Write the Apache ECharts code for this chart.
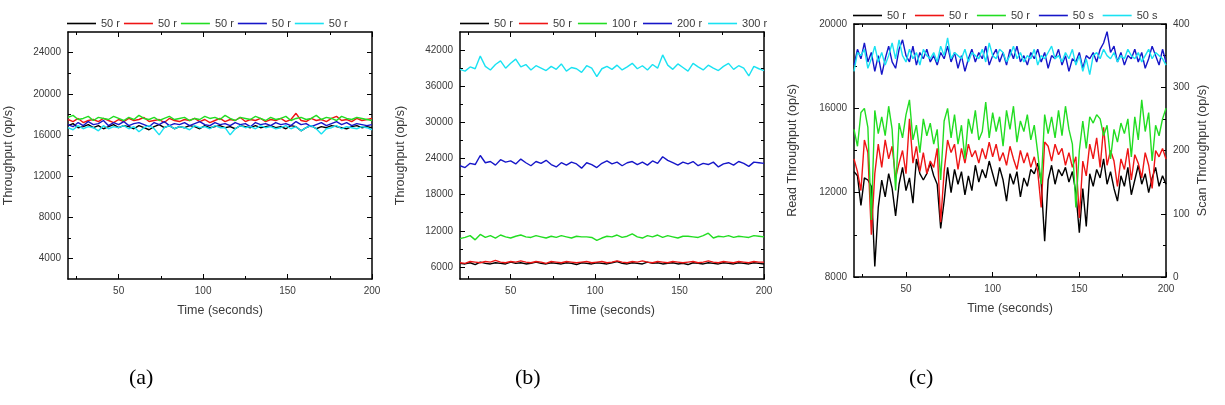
<!DOCTYPE html>
<html>
<head>
<meta charset="utf-8">
<script src="https://cdn.jsdelivr.net/npm/echarts@6/dist/echarts.min.js"></script>
<style>
  html, body { margin: 0; padding: 0; background: #fff; }
  #main { width: 1225px; height: 405px; }
</style>
</head>
<body>
<div id="main"></div>
<script>
// time stamps (seconds)
const times3 = [20,23,26,29,32,35,38,41,44,47,50,53,56,59,62,65,68,71,74,77,
  80,83,86,89,92,95,98,101,104,107,110,113,116,119,122,125,128,131,134,137,
  140,143,146,149,152,155,158,161,164,167,170,173,176,179,182,185,188,191,194,197,200];
const times2 = [20,22,24,26,28,30,32,34,36,38,40,42,44,46,48,50,52,54,56,58,
  60,62,64,66,68,70,72,74,76,78,80,82,84,86,88,90,92,94,96,98,
  100,102,104,106,108,110,112,114,116,118,120,122,124,126,128,130,132,134,136,138,
  140,142,144,146,148,150,152,154,156,158,160,162,164,166,168,170,172,174,176,178,
  180,182,184,186,188,190,192,194,196,198,200];

// panel (a)
const labelsA = ["50 r", "50 r", "50 r", "50 r", "50 r"];
const blackA = [16900,17100,16700,16800,17000,16700,16900,16600,16800,17000,
  16700,16900,16800,16600,16900,16700,16500,16800,17000,16700,
  16900,16600,16800,16700,16900,16800,16600,16900,16700,16800,
  16900,16700,16800,16600,16900,16800,16700,16900,16700,16800,
  16900,16700,16800,16600,16900,16800,16400,16700,16900,16600,
  16800,16700,16900,16800,16700,16600,16800,16900,16700,16800,
  16700];
const redA = [17500,17300,17600,17200,17400,17500,17300,17600,17400,17200,
  17500,17300,17600,17400,17500,17700,17300,17400,17500,17200,
  17600,17400,17300,17500,17400,17600,17300,17500,17200,17400,
  17600,17300,17500,17400,17700,17300,17500,17400,17600,17300,
  17500,17400,17600,17300,17500,18100,17400,17300,17600,17400,
  17500,17300,17600,17800,17400,17500,17300,17600,17400,17500,
  17600];
const greenA = [17700,17900,17500,17600,17800,17400,17700,17600,17500,17800,
  17600,17400,17700,17500,17900,17600,17500,17700,17400,17600,
  17800,17500,17600,17700,17400,17600,17500,17800,17600,17700,
  17500,17900,17600,17400,17700,17600,17500,17800,17600,17400,
  17700,17500,17600,17800,17400,17600,17700,17500,17600,17900,
  17500,17700,17600,17400,17800,17600,17500,17700,17600,17500,
  17400];
const blueA = [17000,16800,17200,16900,17300,17000,17100,17400,16900,17200,
  17000,17300,16900,17100,17200,17000,16800,17200,17000,17300,
  16900,17100,17000,17200,16900,17100,17300,17000,16900,17200,
  17000,17100,16900,17200,17000,17100,16800,17200,17000,17100,
  16900,17200,17000,17100,16900,17300,17000,17100,16800,17000,
  17200,16900,17100,17300,17000,17200,16900,17100,17000,16900,
  17000];
const cyanA = [16700,16500,16900,16600,16800,16700,16400,16900,16600,16800,
  16700,16900,16600,16800,16300,16700,16900,16600,16000,16700,
  16900,16600,16800,16700,16500,16900,16700,16800,16600,16900,
  16700,16700,16000,16600,16900,16700,16800,16600,16900,16700,
  16800,16600,16700,16900,16600,16800,16400,16700,16900,16600,
  16100,16600,16700,16900,16600,16800,16700,16600,16800,16700,
  16500];

// panel (b)
const labelsB = ["50 r", "50 r", "100 r", "200 r", "300 r"];
const blackB = [6600,6500,6700,6400,6800,6600,6500,6700,6600,6500,
  6800,6600,6700,6500,6600,6800,6600,6500,6700,6600,
  6500,6700,6600,6400,6700,6600,6500,6700,6600,6500,
  6700,6900,6600,6500,6700,6600,6500,6800,6600,6700,
  6500,6600,6700,6500,6600,6400,6700,6600,6500,6700,
  6600,6500,6700,6600,6500,6700,6600,6500,6700,6600,
  6500];
const redB = [6700,6600,6900,6800,6700,6900,6800,7100,6800,6700,
  6900,6800,7000,6800,6700,6900,6800,6600,6900,6800,
  6700,6900,6800,6700,6800,6900,6700,6800,6900,6700,
  6800,7000,6800,6700,6900,6800,7000,6800,6700,6900,
  6800,6700,6900,6800,6700,6800,6900,6700,6800,7000,
  6800,6700,6900,6800,6700,6900,6800,6700,6900,6800,
  6800];
const greenB = [10700,10900,11200,10500,11400,10900,11200,10800,11300,11000,
  10800,11100,11300,11000,10900,11200,11000,10800,11100,10900,
  11200,11000,10800,11100,11000,11000,10900,10400,10800,11100,
  11000,11300,10900,11100,11500,11000,10800,11200,11000,11300,
  10900,11200,11000,10800,11100,11100,11000,10900,11200,11600,
  10800,11100,11000,11200,10900,11100,11000,10900,11200,11100,
  11000];
const blueB = [22800,22500,23200,23000,24500,23300,23500,22900,23800,23400,
  23600,23100,23900,23300,22800,23500,23200,23700,23000,22600,
  23300,22900,23400,23100,22400,23300,23000,22500,23200,23600,
  23100,23400,22800,23300,23500,23000,23400,22900,23600,23200,
  24300,23700,23300,22900,23400,23100,23500,22800,23200,23000,
  23400,22600,23100,23300,22900,23500,23200,22700,23400,23300,
  23200];
const cyanB = [38800,38500,39200,38900,41000,39300,38700,39600,40200,39000,
  39800,40500,39200,39600,38700,39400,39000,38600,39300,38800,
  39700,38500,39100,38900,38300,39400,39000,37600,38900,39300,
  38800,39500,38700,39200,39800,38900,39400,38700,39600,39000,
  41200,39500,38800,39700,39100,38500,39800,39200,38700,39500,
  39000,38600,39300,39800,38800,39400,39000,37700,39300,38900,
  38600];

// panel (c): read throughput (left axis) and scan throughput (right axis)
const labelsC = ["50 r", "50 r", "50 r", "50 s", "50 s"];
const blackC = [13000,12800,11400,12700,12600,12300,8500,11300,12600,11800,
  12900,12200,10900,12400,13200,12100,12700,11500,13600,12900,
  12600,12900,13400,12800,12400,10300,11600,13200,12000,13100,
  12400,13000,11900,12800,12100,13300,12500,13100,12700,13500,
  12900,12300,13200,12600,11600,12900,12400,13000,11800,12700,
  12300,13100,12900,13400,12500,9700,12600,13300,12400,13100,
  12800,13200,12500,13000,12000,10100,12200,10400,12900,12300,
  13100,12700,13600,12400,13000,12200,11600,12800,12300,13200,
  11900,12600,13300,12400,12900,12000,12700,13200,12300,12800,
  12400];
const redC = [13600,13000,12100,14500,13900,10000,12900,14300,13200,14500,
  13600,14200,12700,13400,14000,12900,15500,13400,14200,13000,
  13900,12900,13500,13200,14100,10600,13000,14500,13900,14300,
  13100,14100,13400,14300,13700,14000,13400,14100,13600,14400,
  13700,14300,13500,13900,13300,14200,13600,13100,14000,13400,
  13900,13200,13700,13000,11300,14400,14200,13500,14300,13800,
  14100,13300,13900,13200,13700,10800,13500,12800,14300,13600,
  14600,13200,15100,13300,14000,13500,12300,13600,13100,14100,
  12600,13800,13400,12700,13900,13300,12200,14000,13700,14100,
  13600];
const greenC = [15000,14200,15800,16000,15100,10700,15900,14800,15600,14700,
  16100,15000,12100,15300,14600,15700,16400,14500,15200,13900,
  15500,14700,15300,14300,15000,12600,15400,16000,14600,15700,
  14300,15200,13600,15500,14800,15900,14500,14900,16300,14600,
  15800,14900,15600,14200,15900,15000,16100,14400,15400,14900,
  15700,14500,15200,13900,12400,15700,14800,15600,14600,15900,
  14700,16100,15000,14300,11300,14000,15400,14100,15600,15300,
  15700,15500,14700,15200,13600,15000,14400,15300,14800,15500,
  13700,15600,14500,16400,14900,15800,13500,15200,14700,15500,
  16000];
const blueC = [335,360,345,370,340,355,325,350,320,345,
  365,340,330,360,375,350,340,365,335,355,
  345,360,340,350,335,355,345,365,340,355,
  330,350,325,345,360,340,355,345,365,335,
  350,360,340,355,335,360,345,365,340,350,
  335,355,345,360,340,355,330,350,345,360,
  335,350,325,345,340,355,330,350,345,355,
  340,360,370,388,355,365,340,355,335,350,
  345,360,340,355,330,345,365,350,335,360,
  340];
const cyanC = [325,355,350,360,330,345,365,340,355,335,
  350,370,345,375,350,340,360,345,355,335,
  360,350,345,355,340,365,350,378,345,355,
  350,345,360,340,355,350,345,360,340,370,
  350,345,360,355,340,350,365,345,355,340,
  350,345,360,335,350,345,355,365,345,350,
  340,355,345,360,335,350,325,345,320,350,
  355,345,360,350,345,355,340,350,345,360,
  350,345,355,340,350,360,345,355,350,345,
  335];

// tick values
const xMajor = [50, 100, 150, 200];
const xMinor = [25, 75, 125, 175];
const yMajorA = [4000, 8000, 12000, 16000, 20000, 24000];
const yMinorA = [6000, 10000, 14000, 18000, 22000];
const yMajorB = [6000, 12000, 18000, 24000, 30000, 36000, 42000];
const yMinorB = [9000, 15000, 21000, 27000, 33000, 39000];
const yMajorC = [8000, 12000, 16000, 20000];
const yMinorC = [10000, 14000, 18000];
const yMajorS = [0, 100, 200, 300, 400];
const yMinorS = [50, 150, 250, 350];

const palette = ["#000000", "#ee1515", "#22dd22", "#1616c8", "#1ae2f2"];
const textColor = "#3a3a3a";

// legend names must be unique, pad with zero width spaces
let nameCount = 0;
function uniq(label) {
  nameCount++;
  return label + "\u200b".repeat(nameCount);
}

function axisPair(g, pos, min, max, major, minor, labels, extra) {
  const base = { type: "value", gridIndex: g, position: pos, min: min, max: max,
    splitLine: { show: false }, axisPointer: { show: false } };
  const main = Object.assign({}, base, {
    axisLine: { show: true, onZero: false, lineStyle: { color: "#000", width: 1.5 } },
    axisTick: { show: true, inside: true, length: 5, customValues: major,
      lineStyle: { color: "#000", width: 1 } },
    axisLabel: labels
      ? { show: true, customValues: labels, color: textColor, fontSize: 10, margin: 7,
          formatter: function (v) { return String(v); } }
      : { show: false }
  }, extra || {});
  const sub = Object.assign({}, base, {
    axisLine: { show: false, onZero: false },
    axisTick: { show: true, inside: true, length: 3, customValues: minor,
      lineStyle: { color: "#000", width: 1 } },
    axisLabel: { show: false }
  });
  return [main, sub];
}

const nameStyle = { fontSize: 12.5, color: textColor };

const xAxes = [];
const yAxes = [];
[0, 1, 2].forEach(function (g) {
  xAxes.push(...axisPair(g, "bottom", 20, 200, xMajor, xMinor, xMajor,
    { name: "Time (seconds)", nameLocation: "middle", nameGap: 25, nameTextStyle: nameStyle }));
  xAxes.push(...axisPair(g, "top", 20, 200, xMajor, xMinor, null));
});
yAxes.push(...axisPair(0, "left", 2000, 26000, yMajorA, yMinorA, yMajorA,
  { name: "Throughput (op/s)", nameLocation: "middle", nameGap: 53, nameTextStyle: nameStyle }));
yAxes.push(...axisPair(0, "right", 2000, 26000, yMajorA, yMinorA, null));
yAxes.push(...axisPair(1, "left", 4000, 45000, yMajorB, yMinorB, yMajorB,
  { name: "Throughput (op/s)", nameLocation: "middle", nameGap: 53, nameTextStyle: nameStyle }));
yAxes.push(...axisPair(1, "right", 4000, 45000, yMajorB, yMinorB, null));
yAxes.push(...axisPair(2, "left", 8000, 20000, yMajorC, yMinorC, yMajorC,
  { name: "Read Throughput (op/s)", nameLocation: "middle", nameGap: 55, nameTextStyle: nameStyle }));
yAxes.push(...axisPair(2, "right", 0, 400, yMajorS, yMinorS, yMajorS,
  { name: "Scan Throughput (op/s)", nameLocation: "middle", nameGap: 30, nameRotate: 90, nameTextStyle: nameStyle }));

const series = [];
const legendNames = [[], [], []];
function addSeries(g, label, t, vals, color, yIndex) {
  const name = uniq(label);
  legendNames[g].push(name);
  series.push({
    name: name,
    type: "line",
    xAxisIndex: g * 4,
    yAxisIndex: yIndex,
    data: t.map(function (x, i) { return [x, vals[i]]; }),
    symbol: "none",
    color: color,
    lineStyle: { width: 1.4, color: color }
  });
}

[blackA, redA, greenA, blueA, cyanA].forEach(function (v, k) {
  addSeries(0, labelsA[k], times3, v, palette[k], 0);
});
[blackB, redB, greenB, blueB, cyanB].forEach(function (v, k) {
  addSeries(1, labelsB[k], times3, v, palette[k], 4);
});
[blackC, redC, greenC, blueC, cyanC].forEach(function (v, k) {
  addSeries(2, labelsC[k], times2, v, palette[k], k < 3 ? 8 : 10);
});

function legendAt(g, left, top, gap) {
  return {
    data: legendNames[g].map(function (n) { return { name: n, icon: "rect" }; }),
    left: left, top: top, padding: 0,
    itemWidth: 29, itemHeight: 1.6, itemGap: gap,
    selectedMode: false,
    textStyle: { fontSize: 11, color: textColor },
    formatter: function (n) { return n.replace(/\u200b/g, ""); }
  };
}

const panelStyle = { fontFamily: "Liberation Serif", fontSize: 22, fontWeight: "normal", color: "#000" };

let chart = echarts.init(document.getElementById("main"));
let option = {
  animation: false,
  textStyle: { fontFamily: "Liberation Sans, Arial, sans-serif" },
  title: [
    { text: "(a)", left: 129, top: 367, padding: 0, textStyle: panelStyle },
    { text: "(b)", left: 515, top: 367, padding: 0, textStyle: panelStyle },
    { text: "(c)", left: 909, top: 367, padding: 0, textStyle: panelStyle }
  ],
  legend: [
    legendAt(0, 67, 18, 4),
    legendAt(1, 460, 18, 6),
    legendAt(2, 853, 10, 9)
  ],
  grid: [
    { left: 68, top: 32, width: 304, height: 247 },
    { left: 460, top: 32, width: 304, height: 247 },
    { left: 854, top: 24, width: 312, height: 253 }
  ],
  xAxis: xAxes,
  yAxis: yAxes,
  series: series
};
chart.setOption(option);
</script>
</body>
</html>
